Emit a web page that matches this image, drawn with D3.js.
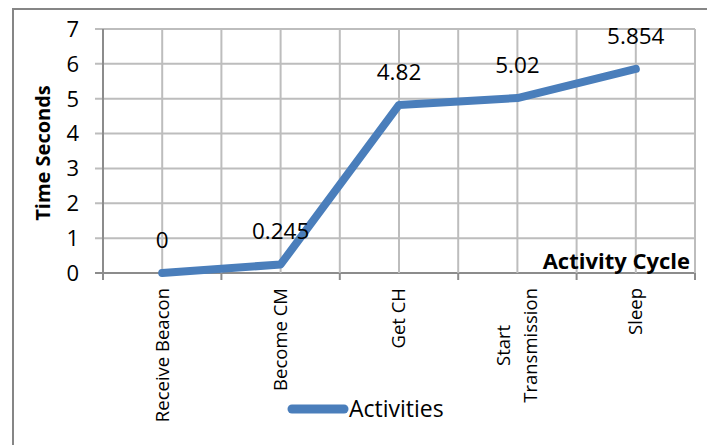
<!DOCTYPE html>
<html><head><meta charset="utf-8">
<script src="https://cdn.jsdelivr.net/npm/d3@7"></script>
<style>body{margin:0;background:#fff}svg{display:block}text{font-family:"Open Sans",sans-serif;fill:#000}</style>
</head><body>
<script>
const categories = [["Receive Beacon"], ["Become CM"], ["Get CH"], ["Start", "Transmission"], ["Sleep"]];
const values = [0, 0.245, 4.82, 5.02, 5.854];
const labels = ["0", "0.245", "4.82", "5.02", "5.854"];
const yTicks = [0, 1, 2, 3, 4, 5, 6, 7];
const seriesName = "Activities";

const W = 707, H = 445;
const svg = d3.select("body").append("svg").attr("width", W).attr("height", H);

// outer border (left and top visible)
svg.append("path").attr("d", `M13,${H} L13,9 L${W},9`).attr("fill","none").attr("stroke","#868686").attr("stroke-width",2);

const x = d3.scaleBand().domain(d3.range(categories.length)).range([103, 695]).paddingInner(0).paddingOuter(0);
const y = d3.scaleLinear().domain([0, 7]).range([273, 29]);
const cx = i => x(i) + x.bandwidth() / 2;

// horizontal gridlines
svg.append("g").selectAll("line").data(yTicks).join("line")
  .attr("x1", 95).attr("x2", 695).attr("y1", d => y(d)).attr("y2", d => y(d))
  .attr("stroke", d => d === 0 ? "#8c8c8c" : "#bdbdbd").attr("stroke-width", 2);

// vertical gridlines at boundaries and centers
const vb = d3.range(categories.length + 1).map(i => 103 + i * x.bandwidth());
const vc = d3.range(categories.length).map(cx);
svg.append("g").selectAll("line").data(vb.slice(1).concat(vc)).join("line")
  .attr("x1", d => d).attr("x2", d => d).attr("y1", 29).attr("y2", 273)
  .attr("stroke", "#bdbdbd").attr("stroke-width", 2);

// y axis line
svg.append("line").attr("x1", 103).attr("x2", 103).attr("y1", 29).attr("y2", 279).attr("stroke", "#8c8c8c").attr("stroke-width", 2);
// x ticks at boundaries
svg.append("g").selectAll("line").data(vb).join("line")
  .attr("x1", d => d).attr("x2", d => d).attr("y1", 273).attr("y2", 280)
  .attr("stroke", "#8c8c8c").attr("stroke-width", 2);

// y tick labels
svg.append("g").selectAll("text").data(yTicks).join("text")
  .attr("x", 79).attr("y", d => y(d)).attr("dy", "0.36em").attr("text-anchor", "end")
  .style("font-size", "22px").text(d => d);

// y title
svg.append("text").attr("transform", "translate(50,153) rotate(-90)").attr("text-anchor", "middle")
  .style("font-size", "20px").style("font-weight", "bold").text("Time Seconds");

// x title
svg.append("text").attr("x", 690).attr("y", 269).attr("text-anchor", "end")
  .style("font-size", "22px").style("font-weight", "bold").text("Activity Cycle");

// category labels
const cg = svg.append("g").selectAll("g").data(categories).join("g");
cg.each(function(lines, i) {
  const g = d3.select(this);
  const n = lines.length, lh = 27;
  const t = g.append("text").attr("text-anchor", "middle").style("font-size", "18.5px");
  lines.forEach((l, k) => {
    t.append("tspan").attr("x", 0).attr("y", (k - (n - 1) / 2) * lh).attr("dy", "0.35em").text(l);
  });
  const maxLen = d3.max(t.selectAll("tspan").nodes(), nd => nd.getComputedTextLength());
  g.attr("transform", `translate(${cx(i)},${288 + maxLen / 2}) rotate(-90)`);
});

// line
const line = d3.line().x((d, i) => cx(i)).y(d => y(d));
svg.append("path").datum(values).attr("d", line).attr("fill", "none")
  .attr("stroke", "#4A7EBB").attr("stroke-width", 8).attr("stroke-linejoin", "round").attr("stroke-linecap", "round");

// data labels
svg.append("g").selectAll("text").data(values).join("text")
  .attr("x", (d, i) => cx(i)).attr("y", d => y(d) - 25).attr("text-anchor", "middle")
  .style("font-size", "22.5px").text((d, i) => labels[i]);

// legend
svg.append("line").attr("x1", 292).attr("x2", 344).attr("y1", 409).attr("y2", 409)
  .attr("stroke", "#4A7EBB").attr("stroke-width", 9).attr("stroke-linecap", "round");
svg.append("text").attr("x", 349).attr("y", 417).style("font-size", "23px").text(seriesName);
</script>
</body></html>
